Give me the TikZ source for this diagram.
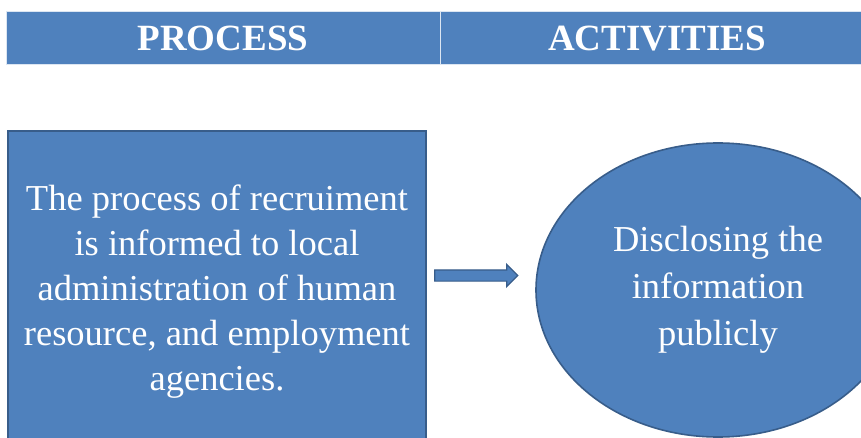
\documentclass[tikz,border=0pt]{standalone}
\usepackage{fontspec}
\setmainfont{Liberation Serif}
\usetikzlibrary{shapes.geometric,shapes.arrows}
\definecolor{pfill}{HTML}{4F81BD}
\definecolor{pline}{HTML}{385D8A}
\tikzset{
  headcell/.style={rectangle, fill=pfill, draw=white!80!pfill, line width=1pt, text=white,
    font=\fontsize{37}{40}\selectfont\bfseries, minimum height=53pt, inner sep=0pt},
  procbox/.style={rectangle, fill=pfill, draw=pline, line width=1.6pt, text=white,
    font=\fontsize{36.5}{45}\selectfont, align=center, inner sep=0pt},
  actell/.style={ellipse, fill=pfill, draw=pline, line width=1.6pt, text=white,
    font=\fontsize{36.5}{47}\selectfont, align=center, inner sep=0pt},
  blockarrow/.style={single arrow, fill=pfill, draw=pline, line width=1.2pt, inner sep=0pt,
    single arrow head extend=5.5pt, single arrow tip angle=90}
}
\begin{document}
\begin{tikzpicture}[x=1pt,y=-1pt]
\useasboundingbox (0,0) rectangle (861,438);
\clip (0,0) rectangle (861,438);
\fill[white] (0,0) rectangle (861,438);
\node[headcell, minimum width=434pt] (h1) at (223,38.5) {PROCESS};
\node[headcell, minimum width=434pt] (h2) at (657,38.5) {ACTIVITIES};
\node[procbox, minimum width=418pt, minimum height=322pt] (box) at (217,292)
  {The process of recruiment\\is informed to local\\administration of human\\resource, and employment\\agencies.};
\node[actell, minimum width=364pt, minimum height=294pt] (ell) at (718,290)
  {Disclosing the\\information\\publicly};
\node[blockarrow, minimum height=83pt] (arr) at (473.5,275.5) {\rule{0pt}{10pt}};
\end{tikzpicture}
\end{document}
